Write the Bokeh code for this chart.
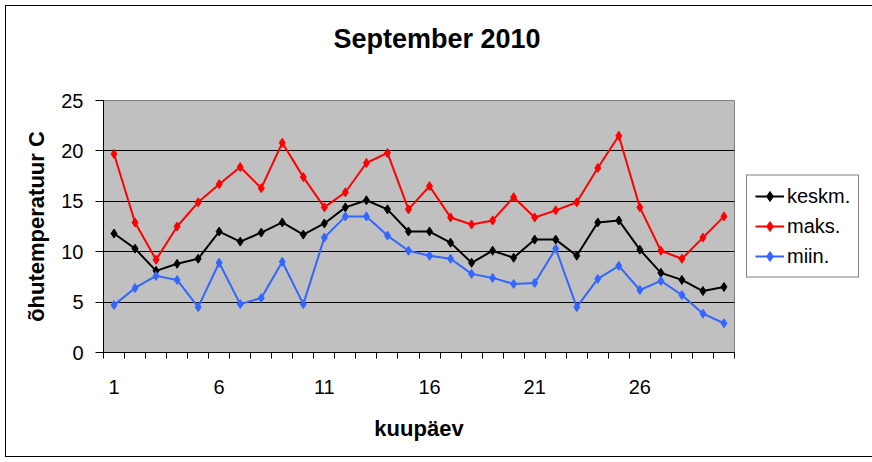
from bokeh.plotting import figure
from bokeh.models import Range1d, FixedTicker, Legend, LegendItem, LinearAxis
from bokeh.embed import file_html
from bokeh.resources import INLINE

days = list(range(1, 31))
keskm = [11.8, 10.3, 8.1, 8.8, 9.3, 12.0, 11.0, 11.9, 12.9, 11.7,
         12.8, 14.4, 15.1, 14.2, 12.0, 12.0, 10.9, 8.9, 10.1, 9.4,
         11.2, 11.2, 9.6, 12.9, 13.1, 10.2, 7.9, 7.2, 6.1, 6.5]
maks = [19.7, 12.9, 9.2, 12.5, 14.9, 16.7, 18.4, 16.3, 20.8, 17.4,
        14.4, 15.9, 18.8, 19.8, 14.2, 16.5, 13.4, 12.7, 13.1, 15.4,
        13.4, 14.1, 14.9, 18.3, 21.5, 14.4, 10.1, 9.3, 11.4, 13.5]
miin = [4.7, 6.4, 7.6, 7.2, 4.5, 8.9, 4.8, 5.4, 9.0, 4.8,
        11.4, 13.5, 13.5, 11.6, 10.1, 9.6, 9.3, 7.8, 7.4, 6.8,
        6.9, 10.3, 4.5, 7.3, 8.6, 6.2, 7.1, 5.7, 3.85, 2.9]
x_tick_days = [1, 6, 11, 16, 21, 26]
y_ticks = [0, 5, 10, 15, 20, 25]

FONT = "Liberation Sans"

p = figure(frame_width=631, frame_height=252, output_backend="svg", toolbar_location=None,
           x_range=Range1d(0.5, 30.5), y_range=Range1d(0, 25),
           min_border_left=97, min_border_top=94, min_border_right=131,
           min_border_bottom=104)
p.styles = {"border": "1px solid black", "margin": "5px"}

p.background_fill_color = "#C0C0C0"
p.border_fill_color = "white"
p.outline_line_color = "#808080"

p.title.text = "September 2010"
p.title.text_font = FONT
p.title.text_font_size = "27px"
p.title.text_font_style = "bold"
p.title.text_color = "black"
p.title.align = "left"
p.title.offset = 230
p.title.standoff = 2

# invisible spacer between title and plot area (one hidden tick, no label)
spacer = LinearAxis(ticker=FixedTicker(ticks=[15]), major_tick_out=46, major_tick_in=0,
                    minor_tick_out=0, minor_tick_in=0, major_label_standoff=0,
                    major_label_overrides={15: ""},
                    axis_line_color=None, major_tick_line_color=None,
                    minor_tick_line_color=None, major_label_text_font_size="0px")
p.add_layout(spacer, "above")

# grid
p.xgrid.visible = False
p.ygrid.ticker = FixedTicker(ticks=[5, 10, 15, 20])
p.ygrid.grid_line_color = "black"
p.ygrid.grid_line_width = 1

# y axis
yax = p.yaxis[0]
yax.ticker = FixedTicker(ticks=y_ticks)
yax.major_tick_out = 8
yax.major_tick_in = 0
yax.minor_tick_out = 0
yax.minor_tick_in = 0
yax.axis_line_color = "black"
yax.major_tick_line_color = "black"
yax.major_label_text_font = FONT
yax.major_label_text_font_size = "20px"
yax.major_label_text_color = "black"
yax.major_label_standoff = 12
yax.axis_label = "õhutemperatuur C"
yax.axis_label_text_font = FONT
yax.axis_label_text_font_size = "22px"
yax.axis_label_text_font_style = "bold"
yax.axis_label_text_color = "black"
yax.axis_label_standoff = 9

# x axis
xax = p.below[0]
xax.ticker = FixedTicker(ticks=x_tick_days, minor_ticks=[d - 0.5 for d in days] + [30.5])
xax.major_tick_out = 0
xax.major_tick_in = 0
xax.minor_tick_out = 6
xax.minor_tick_in = 0
xax.minor_tick_line_color = "black"
xax.axis_line_color = "black"
xax.major_label_text_font = FONT
xax.major_label_text_font_size = "20px"
xax.major_label_text_color = "black"
xax.major_label_standoff = 21
xax.axis_label = "kuupäev"
xax.axis_label_text_font = FONT
xax.axis_label_text_font_size = "22px"
xax.axis_label_text_font_style = "bold"
xax.axis_label_text_color = "black"
xax.axis_label_standoff = 19

series = [("keskm.", keskm, "black"), ("maks.", maks, "#FF0000"), ("miin.", miin, "#3366FF")]
items = []
for name, vals, col in series:
    l = p.line(days, vals, line_color=col, line_width=2)
    s = p.scatter(days, vals, marker="diamond", size=9, fill_color=col, line_color=col)
    items.append(LegendItem(label=name, renderers=[l, s]))

legend = Legend(items=items, location="center_left")
legend.border_line_color = "black"
legend.border_line_width = 1
legend.background_fill_color = "white"
legend.background_fill_alpha = 1
legend.label_text_font = FONT
legend.label_text_font_size = "20px"
legend.label_text_color = "black"
legend.glyph_width = 29
legend.glyph_height = 25
legend.label_height = 25
legend.label_standoff = 3
legend.spacing = 5
legend.padding = 8
legend.margin = 12
p.add_layout(legend, "right")

open("out.html", "w").write(file_html(p, INLINE))
